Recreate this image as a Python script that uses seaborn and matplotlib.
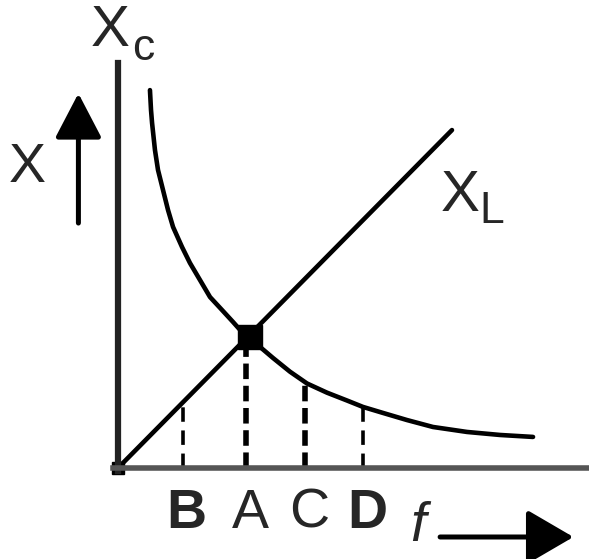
import numpy as np
import pandas as pd
import matplotlib
matplotlib.use("Agg")
import matplotlib.pyplot as plt
import seaborn as sns

# frequency in units of resonance frequency, reactance in units of X at resonance
xc_f = [0.242, 0.250, 0.258, 0.280, 0.303, 0.341, 0.379, 0.417, 0.485, 0.545,
        0.621, 0.697, 0.788, 0.871, 0.924, 1.0, 1.076, 1.174, 1.303, 1.432,
        1.583, 1.735, 1.856, 2.008, 2.189, 2.386, 2.644, 2.894, 3.144]
xc_x = [2.885, 2.733, 2.634, 2.427, 2.275, 2.122, 1.969, 1.840, 1.687, 1.565,
        1.435, 1.305, 1.206, 1.115, 1.055, 1.0, 0.924, 0.840, 0.735, 0.645,
        0.575, 0.515, 0.466, 0.420, 0.366, 0.313, 0.275, 0.252, 0.237]

xl_f = [0.0, 2.53]
xl_x = [0.0, 2.58]

# dashed drop lines at the marked frequencies
drop_labels = ["B", "A", "C", "D"]
drop_f = [0.49, 0.97, 1.417, 1.856]
drop_x = [0.50, 1.0, 0.64, 0.466]
label_bold = [True, False, False, True]
drop_heavy = [False, True, True, False]

res_f, res_x = 1.0, 1.0

NARROW = ['Liberation Sans Narrow', 'Liberation Sans', 'DejaVu Sans']
PLAIN = ['Liberation Sans', 'DejaVu Sans']


def main():
    sns.set_theme(style="white")
    plt.rcParams['font.family'] = PLAIN

    fig = plt.figure(figsize=(5.89, 5.59), dpi=100)
    ax = fig.add_axes([0, 0, 1, 1])
    ax.set_xlim(-0.894, 3.568)
    ax.set_ylim(-0.695, 3.573)

    # axes drawn as spines
    for side in ["top", "right"]:
        ax.spines[side].set_visible(False)
    ax.spines["left"].set_position(("data", 0))
    ax.spines["bottom"].set_position(("data", 0))
    ax.spines["left"].set_bounds(-0.02, 3.09)
    ax.spines["bottom"].set_bounds(-0.04, 3.568)
    ax.spines["left"].set_linewidth(4.5)
    ax.spines["bottom"].set_linewidth(4.0)
    ax.spines["left"].set_color("#222222")
    ax.spines["bottom"].set_color("#555555")
    ax.set_xticks([])
    ax.set_yticks([])

    xc = pd.DataFrame({"f": xc_f, "X": xc_x})
    xl = pd.DataFrame({"f": xl_f, "X": xl_x})
    sns.lineplot(data=xc, x="f", y="X", sort=False, color="black", lw=3.3, ax=ax)
    sns.lineplot(data=xl, x="f", y="X", sort=False, color="black", lw=3.3, ax=ax)

    for fv, xv, heavy in zip(drop_f, drop_x, drop_heavy):
        if heavy:
            ax.plot([fv, fv], [0, xv], color="black", lw=4.0, ls=(0, (2.8, 1.2)))
        else:
            ax.plot([fv, fv], [0, xv], color="black", lw=2.6, ls=(0, (4.0, 2.4)))

    ax.plot([res_f], [res_x], marker="s", ms=17, color="black")
    ax.plot([xl_f[0]], [xl_x[0]], marker="s", ms=9, color="black")

    # labels
    ax.text(-0.06, 3.34, "X", fontsize=42, ha="center", va="center", family=NARROW)
    ax.text(0.19, 3.20, "c", fontsize=32, ha="center", va="center", family=NARROW)
    ax.text(-0.69, 2.29, "X", fontsize=40, ha="center", va="center", family=NARROW)
    ax.text(2.59, 2.08, "X", fontsize=42, ha="center", va="center", family=NARROW)
    ax.text(2.83, 1.96, "L", fontsize=32, ha="center", va="center", family=NARROW)

    for lab, fv, b in zip(drop_labels, drop_f, label_bold):
        ax.text(fv + 0.03, -0.35, lab, fontsize=40, ha="center", va="center",
                fontweight="bold" if b else "normal")
    ax.text(2.27, -0.45, "f", fontsize=40, ha="center", va="center",
            fontstyle="italic")

    ax.annotate("", xy=(-0.30, 2.86), xytext=(-0.30, 1.87),
                arrowprops=dict(arrowstyle="-|>,head_length=2.3,head_width=1.2",
                                color="black", lw=3.6, shrinkA=0, shrinkB=0))
    ax.annotate("", xy=(3.45, -0.527), xytext=(2.44, -0.527),
                arrowprops=dict(arrowstyle="-|>,head_length=2.4,head_width=1.4",
                                color="black", lw=3.6, shrinkA=0, shrinkB=0))

    fig.savefig("out.png", dpi=100, facecolor="white")
    plt.close(fig)


if __name__ == "__main__":
    main()
